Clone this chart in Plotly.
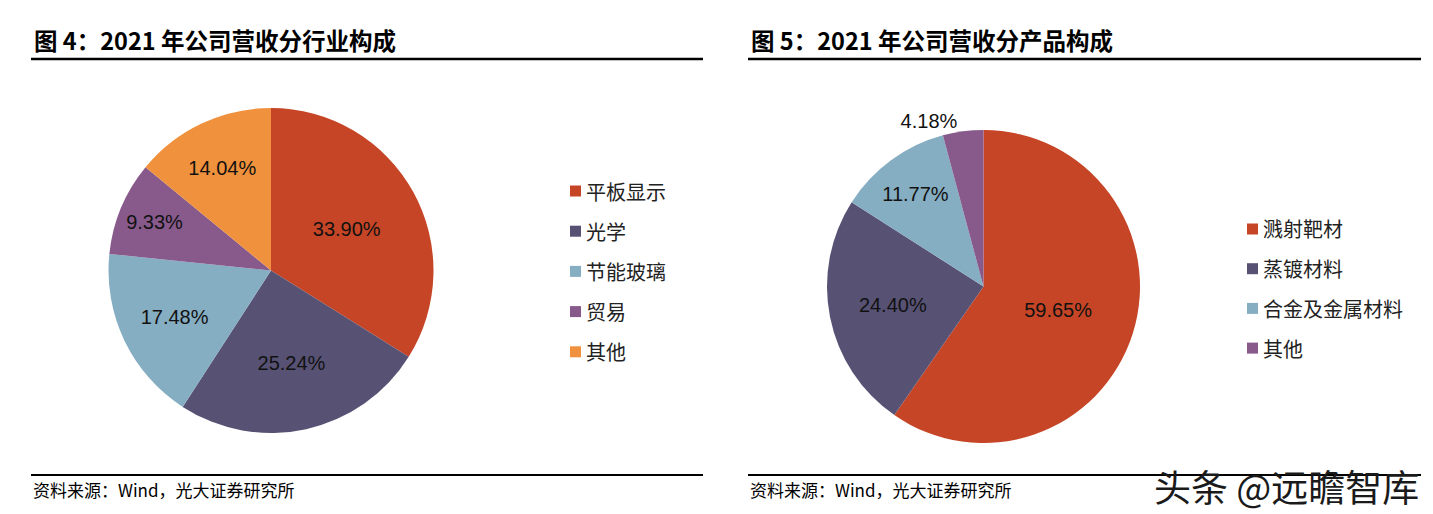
import plotly.graph_objects as go

# Data
industry_labels = ['平板显示', '光学', '节能玻璃', '贸易', '其他']
industry_share = [33.90, 25.24, 17.48, 9.33, 14.04]
industry_colors = ['#C64526', '#575174', '#86AEC2', '#875A8B', '#F0913D']

product_labels = ['溅射靶材', '蒸镀材料', '合金及金属材料', '其他']
product_share = [59.65, 24.40, 11.77, 4.18]
product_colors = ['#C64526', '#575174', '#86AEC2', '#875A8B']

titles = ['图 4：2021 年公司营收分行业构成', '图 5：2021 年公司营收分产品构成']
source_text = '资料来源：Wind，光大证券研究所'

W, H = 1433, 514
CJK = 'Noto Sans CJK SC'
LAT = 'Liberation Sans, Arial'


def px(x):
    return x / W


def py(y):
    return 1 - y / H


fig = go.Figure()

fig.add_trace(go.Pie(
    labels=industry_labels, values=industry_share,
    marker=dict(colors=industry_colors, line=dict(width=0)),
    sort=False, direction='clockwise', rotation=0,
    texttemplate='%{value:.2f}%', textposition='inside',
    insidetextorientation='horizontal',
    textfont=dict(family=LAT, size=20, color='#111111'),
    domain=dict(x=[px(108), px(434)], y=[py(433), py(108)]),
    hoverinfo='label+value', showlegend=False,
))

fig.add_trace(go.Pie(
    labels=product_labels, values=product_share,
    marker=dict(colors=product_colors, line=dict(width=0)),
    sort=False, direction='clockwise', rotation=0,
    texttemplate='%{value:.2f}%',
    textposition=['inside', 'inside', 'inside', 'outside'],
    insidetextorientation='horizontal',
    textfont=dict(family=LAT, size=20, color='#111111'),
    domain=dict(x=[px(826), px(1141)], y=[py(443), py(130)]),
    hoverinfo='label+value', showlegend=False,
))

shapes = []
annotations = []

# titles, rules and source lines for both panels
for x0, x1, title in [(31, 703, titles[0]), (748, 1421, titles[1])]:
    annotations.append(dict(
        x=px(x0 + 1), y=py(40), xref='paper', yref='paper', text='<b>' + title + '</b>',
        showarrow=False, xanchor='left', yanchor='middle',
        font=dict(family=CJK, size=23.5, color='#000000')))
    shapes.append(dict(type='line', xref='paper', yref='paper',
                       x0=px(x0), x1=px(x1), y0=py(59), y1=py(59),
                       line=dict(color='#000000', width=2.5)))
    shapes.append(dict(type='line', xref='paper', yref='paper',
                       x0=px(x0), x1=px(x1), y0=py(475), y1=py(475),
                       line=dict(color='#000000', width=2)))
    annotations.append(dict(
        x=px(x0), y=py(489), xref='paper', yref='paper', text=source_text,
        showarrow=False, xanchor='left', yanchor='middle',
        font=dict(family=CJK, size=17, color='#000000')))

# hand-built legends
for labels, colors, mx, y0, step in [
        (industry_labels, industry_colors, 570, 191, 40.2),
        (product_labels, product_colors, 1247, 229, 39.7)]:
    for i, (lab, col) in enumerate(zip(labels, colors)):
        yc = y0 + i * step
        shapes.append(dict(type='rect', xref='paper', yref='paper',
                           x0=px(mx), x1=px(mx + 11), y0=py(yc - 5.5), y1=py(yc + 5.5),
                           fillcolor=col, line=dict(width=0)))
        annotations.append(dict(
            x=px(mx + 14), y=py(yc), xref='paper', yref='paper', text=lab,
            showarrow=False, xanchor='left', yanchor='middle',
            font=dict(family=CJK, size=20, color='#222222')))

# watermark
annotations.append(dict(
    x=px(1421), y=py(486), xref='paper', yref='paper', text='头条 @远瞻智库',
    showarrow=False, xanchor='right', yanchor='middle',
    font=dict(family=CJK, size=37, color='#1a1a1a')))

fig.update_layout(
    width=W, height=H,
    margin=dict(l=0, r=0, t=0, b=0),
    paper_bgcolor='white', plot_bgcolor='white',
    shapes=shapes, annotations=annotations,
    showlegend=False,
)

fig.write_html("out.html", config={'displayModeBar': False},
               post_script="document.body.style.margin='0';")
